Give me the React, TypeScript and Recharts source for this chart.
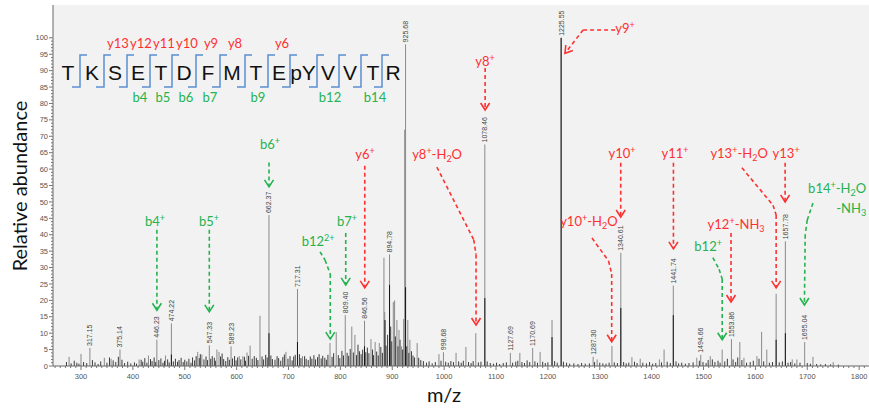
import React from "react";
import {
  Bar,
  CartesianGrid,
  ComposedChart,
  LabelList,
  ReferenceDot,
  ReferenceLine,
  XAxis,
  YAxis,
} from "recharts";

// peaks that carry a printed m/z label
const labelledMz = [
  317.15, 375.14, 446.23, 474.22, 547.33, 589.23, 662.37, 717.31, 809.4, 846.56, 894.78, 925.68,
  998.68, 1078.46, 1127.69, 1170.69, 1225.55, 1287.3, 1340.61, 1441.74, 1494.66, 1553.86, 1657.78,
  1695.04,
];
const labelledAbundance = [
  5.5, 5, 8, 13, 6.3, 6, 46, 23.5, 15.5, 13.8, 34, 98, 4.2, 67.5, 4, 5.5, 100, 2.8, 34.5, 24.5, 3.4,
  8.2, 38, 7.3,
];

// other visible peaks (grey)
const peakMz = [
  277, 300, 345, 358, 412, 430, 463, 525, 533, 562, 566, 605, 612, 620, 626, 645, 695, 727, 780, 792,
  822, 828, 859, 867, 875, 884, 885.5, 902, 904.5, 909, 913, 918, 922, 924, 930, 934, 948, 990, 1023,
  1042, 1061, 1146, 1185, 1208, 1295, 1323.5, 1362, 1378, 1415, 1424, 1487, 1513, 1536, 1570, 1578,
  1603, 1612, 1622, 1640, 1671, 1680, 1711, 1750,
];
const peakAbundance = [
  2.8, 3.7, 2.5, 2.2, 2, 3.2, 3.2, 4.3, 3.5, 5, 4.3, 3, 3, 4.1, 6.2, 15.3, 4.3, 3, 7, 10.3, 12, 9.5,
  8.2, 7.3, 7, 33, 16.5, 19.5, 20, 14, 11, 6, 14.3, 72, 14, 8, 7, 3.6, 4, 5.8, 10, 4, 4.3, 14, 2, 6.1,
  2.7, 2.2, 2, 5, 2.5, 3, 5, 7.3, 2.5, 3, 10.4, 5, 22, 2, 2, 2.8, 1.2,
];

// dark inner parts of the bigger peaks
const coreMz = [474.22, 662.37, 717.31, 846.56, 886, 894.78, 925.68, 1078.46, 1208, 1225.55, 1340.61, 1441.74, 1640, 1657.78];
const coreAbundance = [3.5, 10, 7.3, 6, 14, 24.7, 24, 20.7, 8.8, 100, 17.7, 15.5, 8, 10];

// baseline noise
const noiseMz = [
  272, 281, 287, 292, 296, 305, 311, 322, 327, 333, 338, 350, 355, 362, 367, 372, 379, 384, 390, 396,
  403, 407, 416, 419, 423, 427, 434, 437, 441, 444, 450, 454, 458, 461, 467, 470, 478, 482, 486, 489,
  493, 497, 500, 504, 508, 512, 515, 519, 522, 528, 530, 537, 541, 544, 550, 553, 557, 559, 569, 572,
  575, 579, 583, 586, 592, 596, 599, 602, 608, 615, 617, 623, 630, 634, 638, 641, 649, 652, 656, 659,
  666, 669, 674, 678, 681, 685, 689, 692, 699, 703, 707, 710, 713, 721, 724, 731, 734, 738, 742, 745,
  749, 752, 756, 759, 763, 766, 770, 773, 776, 784, 787, 796, 799, 803, 806, 813, 816, 819, 825, 831,
  834, 837, 840, 843, 849, 852, 855, 862, 864, 870, 873, 878, 881, 888, 891, 897, 899, 906, 911, 915,
  920, 928, 932, 937, 940, 943, 951, 955, 960, 966, 971, 977, 983, 994, 1003, 1008, 1013, 1018, 1028,
  1033, 1037, 1047, 1052, 1056, 1066, 1071, 1083, 1089, 1095, 1101, 1107, 1114, 1120, 1132, 1138,
  1142, 1150, 1155, 1160, 1165, 1175, 1180, 1190, 1195, 1200, 1213, 1218, 1230, 1236, 1242, 1250,
  1258, 1265, 1272, 1280, 1290, 1300, 1306, 1312, 1318, 1328, 1334, 1346, 1351, 1356, 1367, 1372,
  1383, 1390, 1396, 1402, 1408, 1419, 1430, 1436, 1447, 1452, 1458, 1465, 1472, 1480, 1492, 1499,
  1505, 1509, 1517, 1522, 1528, 1532, 1541, 1546, 1557, 1562, 1566, 1574, 1583, 1590, 1596, 1607,
  1616, 1627, 1633, 1646, 1652, 1663, 1668, 1676, 1686, 1700, 1706, 1718, 1726, 1735, 1745, 1760,
];
const noiseAbundance = [
  1.2, 0.8, 1.6, 1, 0.7, 1.2, 0.9, 1.8, 1.1, 0.6, 1.4, 1, 2.6, 1.7, 1.2, 2.8, 1.9, 0.9, 1.3, 0.8,
  1.1, 0.7, 1.9, 1.3, 2.4, 1, 2.1, 1.5, 2.6, 1.2, 1.8, 2.3, 1, 1.6, 2, 1.1, 1.4, 2.2, 1.3, 1.8,
  2.5, 1.2, 1.9, 1.4, 2.2, 1, 2.6, 1.7, 3, 2.4, 3.6, 2, 2.9, 1.8, 2.2, 3, 2.5, 1.6, 2.9, 3.8,
  2.1, 1.5, 2.7, 1.9, 2.3, 3, 1.7, 2.6, 2, 2.8, 1.6, 3.1, 2.2, 3, 2.5, 1.8, 2.9, 2, 3.4, 2.6,
  3.2, 2.1, 1.9, 3, 2.4, 1.6, 2.7, 3.5, 2.2, 3, 1.7, 2.9, 3.4, 3.6, 2.4, 3, 2.2, 1.8, 2.9, 2.2,
  3.3, 2, 2.7, 3.6, 2.3, 3.1, 2.5, 1.9, 3.4, 2.8, 3.9, 3.3, 2.4, 4.6, 3.2, 4, 3.1, 5.2, 4.1, 3.3,
  6.5, 4.5, 3.6, 5, 4.2, 5.6, 3.9, 5, 3.3, 4.4, 3.2, 5.8, 4, 6.2, 9.5, 12, 7.5, 9, 6, 8,
  5, 6, 4, 4.5, 3.2, 2.6, 2.5, 1.8, 1.5, 1, 1.4, 0.8, 1.2, 1.6, 1.3, 1, 1.5, 1.2, 1.4,
  1, 1.6, 1.2, 0.9, 1.5, 1.1, 1.3, 1.4, 0.9, 0.7, 1, 0.6, 0.9, 1.1, 1, 1.3,
  1.6, 1.2, 0.9, 1.7, 1.2, 1.4, 1, 1.3, 0.9, 1.1, 1.5, 1, 1.3, 1, 0.7, 0.8,
  0.6, 0.9, 0.7, 0.8, 1.2, 1, 0.8, 0.7, 1, 1.1, 0.9, 1.2, 0.8, 1, 1.3, 0.9,
  1, 0.8, 1.2, 0.7, 0.9, 1.1, 1.3, 0.9, 1.4, 0.8, 1, 0.7, 0.9, 1.1, 1.6, 1.2,
  0.9, 1.8, 2, 1.2, 1.6, 1, 1.4, 2.2, 2, 1.2, 2.6, 1.8, 1, 1.2, 1.6, 2.2,
  1.4, 1, 1.2, 1.1, 1.4, 1, 1.2, 0.8, 1, 0.9, 0.7, 0.6, 0.5, 0.6, 0.5, 0.4,
];

const xTickLabels = [300, 400, 500, 600, 700, 800, 900, 1000, 1100, 1200, 1300, 1400, 1500, 1600, 1700, 1800];
const yTickLabels = [0, 5, 10, 15, 20, 25, 30, 35, 40, 45, 50, 55, 60, 65, 70, 75, 80, 85, 90, 95, 100];

// peptide sequence and the fragment ions marked on it
const residues = ["T", "K", "S", "E", "T", "D", "F", "M", "T", "E", "pY", "V", "V", "T", "R"];
const yIons = [13, 12, 11, 10, 9, 8, 6];
const bIons = [4, 5, 6, 7, 9, 12, 14];

const RED = "#ff3030";
const GREEN = "#25b34f";
const BLUE = "#5b8fd2";
const TICK_FONT = "'Liberation Sans', Arial, sans-serif";
const NOTE_FONT = "Lato, 'Open Sans', sans-serif";

// ion annotations: label anchor and dashed arrow path, in m/z / abundance units
const annotations = [
  { text: "b4^+", color: GREEN, at: [442.7, 43.9], path: [[446.3, 41.5], [446.3, 17]] },
  { text: "b5^+", color: GREEN, at: [546.8, 43.9], path: [[547.3, 41.5], [547.3, 16.5]] },
  { text: "b6^+", color: GREEN, at: [664.4, 67.4], path: [[662.4, 62], [662.4, 54.6]] },
  { text: "b12^2^+", color: GREEN, at: [757, 37.8], path: [[760.8, 34.8], [770.4, 32.3], [780.5, 28], [780.5, 8.2]] },
  { text: "b7^+", color: GREEN, at: [812.8, 43.9], path: [[810.3, 40.5], [810.3, 24.7]] },
  { text: "y6^+", color: RED, at: [847.5, 64.3], path: [[847, 61], [847, 23.8]] },
  { text: "y8^+-H_2O", color: RED, at: [986.4, 64.3], path: [[986, 60.6], [1057, 38.5], [1061.5, 34], [1061.5, 12.5]] },
  { text: "y8^+", color: RED, at: [1078.9, 92.7], path: [[1079, 90.8], [1079, 78]] },
  { text: "y9^+", color: RED, at: [1348.8, 102.7], path: [[1329.5, 102.4], [1268, 102.4], [1233, 95.3]], angle: 38 },
  { text: "y10^+", color: RED, at: [1343, 64.6], path: [[1340.4, 61.9], [1340.4, 45.4]] },
  { text: "y10^+-H_2O", color: RED, at: [1279, 43.9], path: [[1285, 39], [1317, 32], [1323, 28], [1323, 7.4]] },
  { text: "y11^+", color: RED, at: [1445.2, 64.6], path: [[1442, 61.9], [1442, 35.7]] },
  { text: "y12^+-NH_3", color: RED, at: [1562.8, 43], path: [[1553, 40.5], [1553, 19.5]] },
  { text: "b12^+", color: GREEN, at: [1508.9, 36.3], path: [[1518, 33], [1530, 29.5], [1536, 26.5], [1536, 8]] },
  { text: "y13^+-H_2O", color: RED, at: [1568.6, 64.6], path: [[1574, 60.4], [1634, 49], [1640, 46], [1640, 23.8]] },
  { text: "y13^+", color: RED, at: [1659.2, 64.6], path: [[1657.3, 61.9], [1657.3, 50]] },
  { text: "b14^+-H_2O", color: GREEN, at: [1813.5, 54], anchor: "end", path: [[1711, 49.7], [1700, 44.5], [1696, 40], [1694.5, 18.6]] },
  { text: "-NH_3", color: GREEN, at: [1813.5, 47.9], anchor: "end", path: [] },
];

const rows = [
  ...peakMz.map((mz, i) => ({ mz, abundance: peakAbundance[i], tone: "peak" })),
  ...labelledMz.map((mz, i) => ({ mz, abundance: labelledAbundance[i], tone: "peak", tag: mz.toFixed(2) })),
  ...noiseMz.map((mz, i) => ({ mz, abundance: noiseAbundance[i], tone: "noise" })),
  ...coreMz.map((mz, i) => ({ mz, abundance: coreAbundance[i], tone: "core" })),
];

const toneColor: Record<string, string> = { peak: "#8a8a8a", noise: "#3c3c3c", core: "#151515" };

const xTicks = Array.from({ length: 157 }, (_, i) => 250 + i * 10);
const yTicks = Array.from({ length: 101 }, (_, i) => i);

function PeakLine(props: any) {
  const { x, y, width, height } = props;
  if (![x, y, width, height].every(Number.isFinite)) return null;
  const tone = props.payload?.tone ?? props.tone;
  const cx = x + width / 2;
  return <line x1={cx} x2={cx} y1={y} y2={y + height} stroke={toneColor[tone]} strokeWidth={1} />;
}

function PeakTag(props: any) {
  const { value } = props;
  if (!value) return null;
  const vb = props.viewBox ?? props;
  const cx = vb.x + vb.width / 2 + 2.5;
  return (
    <text transform={`translate(${cx},${vb.y - 2}) rotate(-90)`} fontSize={7} fill="#444" fontFamily={TICK_FONT}>
      {value}
    </text>
  );
}

function MzTick(props: any) {
  const { x, y, payload } = props;
  const v = payload.value;
  const major = xTickLabels.includes(v);
  return (
    <g>
      <line x1={x} x2={x} y1={y} y2={y + (major ? 4 : 2)} stroke="#777" />
      {major && (
        <text x={x} y={y + 13} textAnchor="middle" fontSize={7.5} fill="#555" fontFamily={TICK_FONT}>
          {v}
        </text>
      )}
    </g>
  );
}

function AbundanceTick(props: any) {
  const { x, y, payload } = props;
  const v = payload.value;
  const major = yTickLabels.includes(v);
  return (
    <g>
      <line x1={x - (major ? 4 : 2)} x2={x} y1={y} y2={y} stroke="#777" />
      {major && (
        <text x={x - 5} y={y + 2.6} textAnchor="end" fontSize={7.5} fill="#555" fontFamily={TICK_FONT}>
          {v}
        </text>
      )}
    </g>
  );
}

function parseRich(s: string) {
  const out: { t: string; k: string }[] = [];
  for (let i = 0; i < s.length; i++) {
    const c = s[i];
    if (c === "^" || c === "_") {
      out.push({ t: s[i + 1], k: c === "^" ? "sup" : "sub" });
      i++;
    } else {
      const last = out[out.length - 1];
      if (last && last.k === "n") last.t += c;
      else out.push({ t: c, k: "n" });
    }
  }
  return out;
}

function RichLabel({ cx, cy, text, color, anchor }: any) {
  const parts = parseRich(text);
  let level = 0;
  return (
    <text x={cx} y={cy + 4.5} textAnchor={anchor ?? "middle"} fill={color} fontSize={13} fontFamily={NOTE_FONT}>
      {parts.map((p, i) => {
        const target = p.k === "sup" ? -5 : p.k === "sub" ? 3 : 0;
        const dy = target - level;
        level = target;
        return (
          <tspan key={i} dy={dy} fontSize={p.k === "n" ? 13 : 9}>
            {p.t}
          </tspan>
        );
      })}
    </text>
  );
}

function ArrowHead({ cx, cy, color, angle }: any) {
  return (
    <path
      d={`M${cx - 4.5},${cy - 7} L${cx},${cy} L${cx + 4.5},${cy - 7}`}
      transform={`rotate(${angle ?? 0},${cx},${cy})`}
      fill="none"
      stroke={color}
      strokeWidth={1.6}
    />
  );
}

// letter centres and bracket positions of the sequence map (pixels)
const seqX = [68, 92, 115, 138, 161, 184, 208, 232, 256, 279, 303, 328, 350, 373, 393];
const cutX = [80, 104, 127, 150, 172, 196, 220, 245, 268, 290, 317, 339, 361, 382];

function SequenceMap() {
  return (
    <svg width={869} height={413} style={{ position: "absolute", left: 0, top: 0, pointerEvents: "none" }}>
      {cutX.map((bx, j) => (
        <path key={j} d={`M${bx - 8},87 H${bx} V55 H${bx + 7}`} fill="none" stroke={BLUE} strokeWidth={1.5} />
      ))}
      {residues.map((r, i) => (
        <text
          key={i}
          x={seqX[i]}
          y={80}
          textAnchor="middle"
          fontSize={21}
          fontFamily="'Liberation Sans Narrow', 'Arial Narrow', 'Liberation Sans', sans-serif"
          fill="#111"
        >
          {r}
        </text>
      ))}
      {yIons.map((n) => (
        <text key={"y" + n} x={seqX[15 - n] + 3} y={48} textAnchor="middle" fontSize={13} fontFamily={NOTE_FONT} fill={RED}>
          {"y" + n}
        </text>
      ))}
      {bIons.map((n) => (
        <text key={"b" + n} x={seqX[n - 1] + 2} y={102} textAnchor="middle" fontSize={13} fontFamily={NOTE_FONT} fill={GREEN}>
          {"b" + n}
        </text>
      ))}
    </svg>
  );
}

export default function App() {
  return (
    <div style={{ position: "absolute", left: 0, top: 0, width: 869, height: 413, background: "#fff" }}>
      <ComposedChart width={869} height={413} data={rows} margin={{ top: 5, right: 0, left: 0, bottom: 0 }}>
        <CartesianGrid fill="#f2f2f2" stroke="none" />
        <XAxis
          type="number"
          dataKey="mz"
          domain={[246, 1819]}
          allowDataOverflow
          ticks={xTicks}
          interval={0}
          tickSize={0}
          tickMargin={0}
          tickLine={false}
          tick={(p: any) => <MzTick {...p} />}
          axisLine={{ stroke: "#666" }}
          height={47}
          label={() => (
            <text x={444} y={402} textAnchor="middle" fontSize={20} fontFamily={NOTE_FONT} fill="#111">
              m/z
            </text>
          )}
        />
        <YAxis
          type="number"
          domain={[0, 110]}
          allowDataOverflow
          ticks={yTicks}
          interval={0}
          tickSize={0}
          tickMargin={0}
          tickLine={false}
          tick={(p: any) => <AbundanceTick {...p} />}
          axisLine={{ stroke: "#666" }}
          width={53}
          label={() => (
            <text transform="translate(27,186) rotate(-90)" textAnchor="middle" fontSize={20} fontFamily={NOTE_FONT} fill="#111">
              Relative abundance
            </text>
          )}
        />
        <Bar dataKey="abundance" barSize={1} shape={(p: any) => <PeakLine {...p} />} isAnimationActive={false}>
          <LabelList dataKey="tag" content={(p: any) => <PeakTag {...p} />} />
        </Bar>
        {annotations.flatMap((a, ai) =>
          a.path.slice(1).map((pt, si) => (
            <ReferenceLine
              key={`seg-${ai}-${si}`}
              segment={[
                { x: a.path[si][0], y: a.path[si][1] },
                { x: pt[0], y: pt[1] },
              ]}
              stroke={a.color}
              strokeWidth={1.6}
              strokeDasharray="4 3"
              ifOverflow="visible"
            />
          ))
        )}
        {annotations
          .filter((a) => a.path.length > 0)
          .map((a, ai) => {
            const tip = a.path[a.path.length - 1];
            return (
              <ReferenceDot
                key={`tip-${ai}`}
                x={tip[0]}
                y={tip[1]}
                r={0}
                ifOverflow="visible"
                shape={(p: any) => <ArrowHead cx={p.cx} cy={p.cy} color={a.color} angle={a.angle} />}
              />
            );
          })}
        {annotations.map((a, ai) => (
          <ReferenceDot
            key={`label-${ai}`}
            x={a.at[0]}
            y={a.at[1]}
            r={0}
            ifOverflow="visible"
            shape={(p: any) => <RichLabel cx={p.cx} cy={p.cy} text={a.text} color={a.color} anchor={a.anchor} />}
          />
        ))}
      </ComposedChart>
      <SequenceMap />
    </div>
  );
}
